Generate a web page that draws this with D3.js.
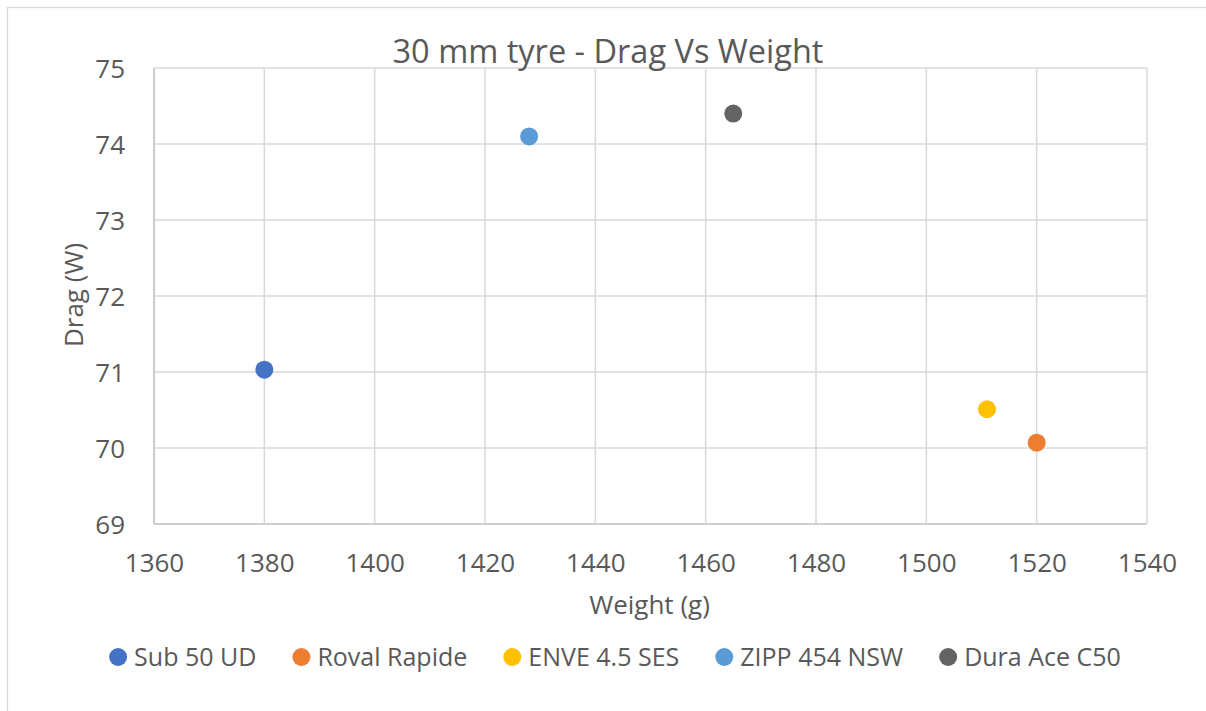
<!DOCTYPE html>
<html>
<head>
<meta charset="utf-8">
<script src="https://cdn.jsdelivr.net/npm/d3@7"></script>
<style>
  html, body { margin: 0; padding: 0; background: #fff; }
  svg { display: block; }
  text { font-family: "Open Sans", "Liberation Sans", sans-serif; fill: #595959; }
</style>
</head>
<body>
<svg id="chart" width="1206" height="711"></svg>
<script>
// ---- Data ----
const seriesNames = ["Sub 50 UD", "Roval Rapide", "ENVE 4.5 SES", "ZIPP 454 NSW", "Dura Ace C50"];
const weights = [1380, 1520, 1511, 1428, 1465];
const drags = [71.03, 70.07, 70.51, 74.1, 74.4];
const colors = ["#4472C4", "#ED7D31", "#FFC000", "#5B9BD5", "#636363"];
const xTicks = [1360, 1380, 1400, 1420, 1440, 1460, 1480, 1500, 1520, 1540];
const yTicks = [69, 70, 71, 72, 73, 74, 75];
const titleText = "30 mm tyre - Drag Vs Weight";
const xTitle = "Weight (g)";
const yTitle = "Drag (W)";

// ---- Layout ----
const W = 1206, H = 711;
const plot = { left: 154, top: 68, right: 1147, bottom: 524 };
const svg = d3.select("#chart");

// outer chart border
svg.append("rect")
  .attr("x", 7.5).attr("y", 7.5)
  .attr("width", W).attr("height", H)
  .attr("fill", "#fff").attr("stroke", "#D9D9D9").attr("stroke-width", 1.3);

const x = d3.scaleLinear().domain([1360, 1540]).range([plot.left, plot.right]);
const y = d3.scaleLinear().domain([69, 75]).range([plot.bottom, plot.top]);

// gridlines
const grid = svg.append("g");
grid.selectAll("line.v").data(xTicks).join("line")
  .attr("x1", d => x(d)).attr("x2", d => x(d))
  .attr("y1", plot.top).attr("y2", plot.bottom)
  .attr("stroke", "#D9D9D9").attr("stroke-width", 1.5);
grid.selectAll("line.h").data(yTicks).join("line")
  .attr("x1", plot.left).attr("x2", plot.right)
  .attr("y1", d => y(d)).attr("y2", d => y(d))
  .attr("stroke", "#D9D9D9").attr("stroke-width", 1.5);

// axis lines
svg.append("line").attr("x1", plot.left).attr("x2", plot.right)
  .attr("y1", plot.bottom).attr("y2", plot.bottom)
  .attr("stroke", "#C8C8C8").attr("stroke-width", 1.7);
svg.append("line").attr("x1", plot.left).attr("x2", plot.left)
  .attr("y1", plot.top).attr("y2", plot.bottom)
  .attr("stroke", "#C8C8C8").attr("stroke-width", 1.7);

// axes with d3 axis generators (labels only)
const xAxis = d3.axisBottom(x).tickValues(xTicks).tickSize(0).tickPadding(0).tickFormat(d3.format("d"));
const gx = svg.append("g").attr("transform", `translate(0,${plot.bottom})`).call(xAxis);
gx.select(".domain").remove();
gx.selectAll("text").attr("y", 48).attr("dy", null)
  .style("font-size", "26px").attr("fill", "#595959")
  .style("font-family", '"Open Sans", sans-serif');

const yAxis = d3.axisLeft(y).tickValues(yTicks).tickSize(0).tickPadding(0).tickFormat(d3.format("d"));
const gy = svg.append("g").attr("transform", `translate(${plot.left},0)`).call(yAxis);
gy.select(".domain").remove();
gy.selectAll("text").attr("x", -29).attr("dy", "0.36em")
  .style("font-size", "26px").attr("fill", "#595959")
  .style("font-family", '"Open Sans", sans-serif');

// title
svg.append("text").attr("x", 608).attr("y", 63).attr("text-anchor", "middle")
  .style("font-size", "32.5px").text(titleText);

// axis titles
svg.append("text").attr("x", (plot.left + plot.right) / 2 - 1).attr("y", 614)
  .attr("text-anchor", "middle").style("font-size", "26px").text(xTitle);
svg.append("text")
  .attr("transform", `translate(83,${(plot.top + plot.bottom) / 2 - 1}) rotate(-90)`)
  .attr("text-anchor", "middle").style("font-size", "26px").text(yTitle);

// points
const pts = seriesNames.map((n, i) => ({ name: n, w: weights[i], d: drags[i], c: colors[i] }));
svg.append("g").selectAll("circle").data(pts).join("circle")
  .attr("cx", d => x(d.w)).attr("cy", d => y(d.d)).attr("r", 9)
  .attr("fill", d => d.c);

// legend
const leg = svg.append("g");
const items = leg.selectAll("g").data(pts).join("g");
items.append("circle").attr("r", 9).attr("cy", 0).attr("fill", d => d.c);
items.append("text").attr("x", 16).attr("dy", "0.36em")
  .style("font-size", "25px").text(d => d.name);
let cx = 0;
const positions = [];
items.each(function (d) {
  const tw = d3.select(this).select("text").node().getComputedTextLength();
  positions.push(cx);
  cx += 16 + tw + 45;
});
const totalW = cx - 45 + 9; // from marker left edge (-9) to last text end
const startX = 615 - totalW / 2 + 9;
items.attr("transform", (d, i) => `translate(${startX + positions[i]},657)`);
</script>
</body>
</html>
